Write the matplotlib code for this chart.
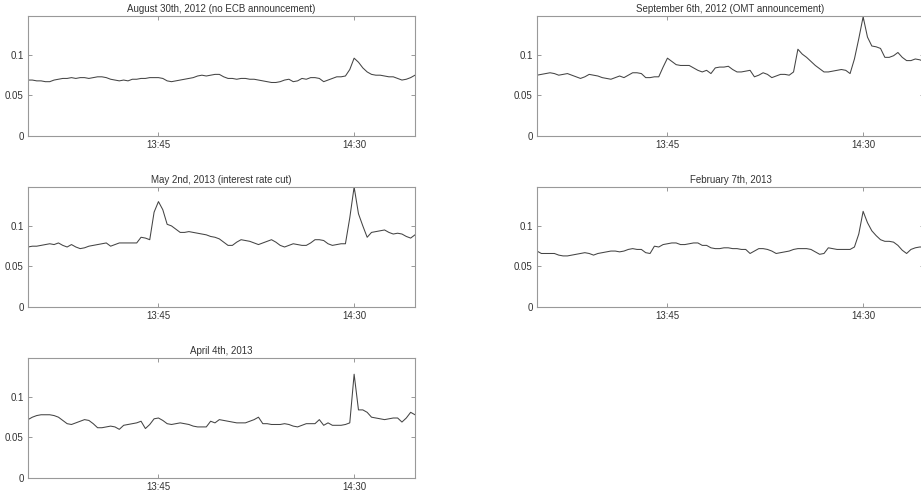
import matplotlib
matplotlib.use("Agg")
import matplotlib.pyplot as plt
import numpy as np

plt.rcParams['font.family'] = ['Liberation Sans', 'DejaVu Sans']

titles = [
    "August 30th, 2012 (no ECB announcement)",
    "September 6th, 2012 (OMT announcement)",
    "May 2nd, 2013 (interest rate cut)",
    "February 7th, 2013",
    "April 4th, 2013",
]

# minutes after 13:15
minutes = list(range(90))
tick_minutes = [30, 75]
tick_labels = ["13:45", "14:30"]
ytick_values = [0, 0.05, 0.1]
ytick_labels = ["0", "0.05", "0.1"]

aug30 = [.069, .069, .068, .068, .067, .067, .069, .070, .071, .071,
         .072, .071, .072, .072, .071, .072, .073, .073, .072, .070,
         .069, .068, .069, .068, .070, .070, .071, .071, .072, .072,
         .072, .071, .068, .067, .068, .069, .070, .071, .072, .074,
         .075, .074, .075, .076, .076, .073, .071, .071, .070, .071,
         .071, .070, .070, .069, .068, .067, .066, .066, .067, .069,
         .070, .067, .068, .071, .070, .072, .072, .071, .067, .069,
         .071, .073, .073, .074, .082, .096, .091, .084, .079, .076,
         .075, .075, .074, .073, .073, .071, .069, .070, .072, .075]

sep6 = [.075, .076, .077, .078, .077, .075, .076, .077, .075, .073,
        .071, .073, .076, .075, .074, .072, .071, .070, .072, .074,
        .072, .075, .078, .078, .077, .072, .072, .073, .073, .085,
        .096, .092, .088, .087, .087, .087, .084, .081, .079, .081,
        .077, .084, .085, .085, .086, .082, .079, .079, .080, .081,
        .073, .075, .078, .076, .072, .074, .076, .076, .075, .079,
        .107, .101, .097, .092, .087, .083, .079, .079, .080, .081,
        .082, .081, .077, .095, .120, .147, .122, .111, .110, .108,
        .097, .097, .099, .103, .097, .093, .093, .095, .094, .092]

may2 = [.074, .075, .075, .076, .077, .078, .077, .079, .076, .074,
        .077, .074, .072, .073, .075, .076, .077, .078, .079, .075,
        .077, .079, .079, .079, .079, .079, .086, .085, .083, .117,
        .130, .120, .102, .100, .096, .092, .092, .093, .092, .091,
        .090, .089, .087, .086, .084, .080, .076, .076, .080, .083,
        .082, .081, .079, .077, .079, .081, .083, .080, .076, .074,
        .076, .078, .077, .076, .076, .079, .083, .083, .082, .078,
        .076, .077, .078, .078, .110, .148, .115, .100, .086, .092,
        .093, .094, .095, .092, .090, .091, .090, .087, .085, .089]

feb7 = [.069, .066, .066, .066, .066, .064, .063, .063, .064, .065,
        .066, .067, .066, .064, .066, .067, .068, .069, .069, .068,
        .069, .071, .072, .071, .071, .067, .066, .075, .074, .077,
        .078, .079, .079, .077, .077, .078, .079, .079, .076, .076,
        .073, .072, .072, .073, .073, .072, .072, .071, .071, .066,
        .069, .072, .072, .071, .069, .066, .067, .068, .069, .071,
        .072, .072, .072, .071, .068, .065, .066, .073, .072, .071,
        .071, .071, .071, .074, .090, .118, .104, .094, .088, .083,
        .081, .081, .080, .076, .070, .066, .071, .073, .074, .074]

apr4 = [.072, .075, .077, .078, .078, .078, .077, .075, .071, .067,
        .066, .068, .070, .072, .071, .067, .062, .062, .063, .064,
        .063, .060, .065, .066, .067, .068, .070, .061, .066, .073,
        .074, .071, .067, .066, .067, .068, .067, .066, .064, .063,
        .063, .063, .070, .068, .072, .071, .070, .069, .068, .068,
        .068, .070, .072, .075, .067, .067, .066, .066, .066, .067,
        .066, .064, .063, .065, .067, .067, .067, .072, .065, .068,
        .065, .065, .065, .066, .068, .128, .084, .084, .081, .075,
        .074, .073, .072, .073, .074, .074, .069, .074, .081, .078]

series = [aug30, sep6, may2, feb7, apr4]

W, H = 921, 497
fig = plt.figure(figsize=(W / 100, H / 100), dpi=100)

lefts = [28, 537]
tops = [16, 187, 358]
aw, ah = 387, 120

for i, (title, vals) in enumerate(zip(titles, series)):
    r, c = divmod(i, 2)
    x0 = lefts[c]
    y0 = tops[r]
    ax = fig.add_axes([x0 / W, 1 - (y0 + ah) / H, aw / W, ah / H])
    ax.plot(minutes, vals, color='#444444', lw=0.75)
    ax.set_xlim(0, 89)
    ax.set_ylim(0, 0.148)
    ax.set_xticks(tick_minutes)
    ax.set_xticklabels(tick_labels)
    ax.set_yticks(ytick_values)
    ax.set_yticklabels(ytick_labels)
    ax.tick_params(direction='in', length=3, width=0.6, labelsize=7,
                   top=True, right=True, colors='#888888', labelcolor='#333333', pad=3)
    for s in ax.spines.values():
        s.set_color('#999999')
        s.set_linewidth(0.8)
    ax.set_title(title, fontsize=7, color='#333333', pad=3)

fig.savefig("out.png", dpi=100)
